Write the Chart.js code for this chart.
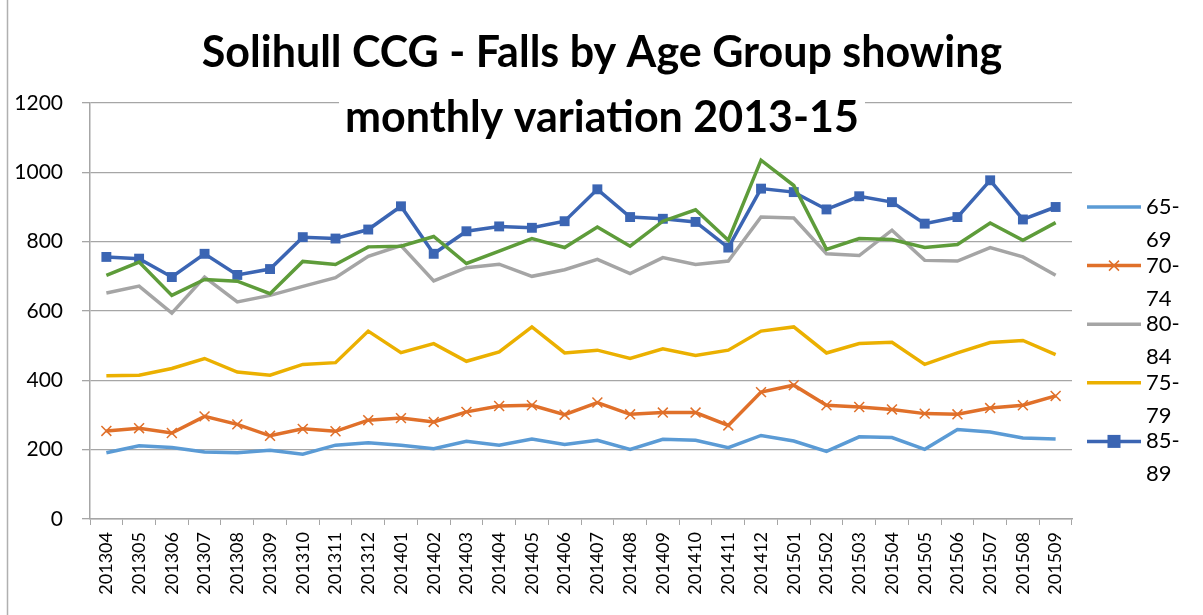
<!DOCTYPE html>
<html>
<head>
<meta charset="utf-8">
<script src="https://cdn.jsdelivr.net/npm/chart.js@4"></script>
<style>
html,body{margin:0;padding:0;background:#fff;}
#wrap{width:1203px;height:615px;position:relative;}
</style>
</head>
<body>
<div id="wrap"><canvas id="c" width="1203" height="615"></canvas></div>
<script>
// months on the x axis
const months = ["201304","201305","201306","201307","201308","201309","201310","201311","201312",
  "201401","201402","201403","201404","201405","201406","201407","201408","201409","201410","201411","201412",
  "201501","201502","201503","201504","201505","201506","201507","201508","201509"];

// falls per age group
const age6569 = [191,211,206,193,191,198,187,213,220,213,203,224,213,231,215,227,201,230,227,206,241,225,195,237,235,201,258,251,234,231];
const age7074 = [254,262,248,296,273,240,260,253,285,291,280,309,326,328,301,336,302,307,307,270,366,386,328,323,316,304,302,320,328,355];
const age8084 = [652,672,594,698,626,645,671,696,758,789,687,725,735,700,719,749,708,754,734,744,871,868,765,760,833,746,744,783,756,703];
const age7579 = [413,415,434,463,424,415,446,451,542,480,506,455,482,554,479,487,463,491,472,487,542,554,479,506,510,446,479,509,515,474];
const age8589 = [756,751,698,765,704,721,813,809,835,902,765,830,844,840,859,951,871,866,857,783,953,943,893,931,914,852,871,977,864,900];
const age90 = [703,741,645,691,686,650,743,734,785,787,815,737,773,809,783,842,787,859,892,804,1035,962,778,809,806,783,792,854,804,855];

const yTicks = [0,200,400,600,800,1000,1200];
const titleLines = ["Solihull CCG - Falls by Age Group showing","monthly variation 2013-15"];
const legendNames = [["65-","69"],["70-","74"],["80-","84"],["75-","79"],["85-","89"]];

function ds(label,data,color,extra){
    return Object.assign({
        label:label,
        data:data,
        borderColor:color,
        backgroundColor:color,
        borderWidth:3.5,
        tension:0,
        pointRadius:0,
        pointHoverRadius:0
    },extra||{});
}

const sets = [
    ds("65-69",age6569,"#5b9bd5"),
    ds("70-74",age7074,"#e0702a",{pointStyle:"crossRot",pointRadius:7,pointBorderWidth:1.5,pointBorderColor:"#e0702a"}),
    ds("80-84",age8084,"#a5a5a5"),
    ds("75-79",age7579,"#ebb000"),
    ds("85-89",age8589,"#3b65b3",{pointStyle:"rect",pointRadius:7,pointBorderWidth:0}),
    ds("90+",age90,"#5e9c3a")
];
// later series on top, like the original
sets.forEach((s,i)=>{ s.order = sets.length-i; });

const extras = {
    id:"extras",
    afterDraw(chart){
        const ctx = chart.ctx;
        ctx.save();
        // outer frame edge on the left
        ctx.strokeStyle="#b0b0b0";
        ctx.lineWidth=1.5;
        ctx.beginPath();ctx.moveTo(7.5,0);ctx.lineTo(7.5,615);ctx.stroke();

        // title, on a white box that hides the top gridline
        ctx.font="bold 43px Lato";
        ctx.textAlign="center";
        ctx.textBaseline="alphabetic";
        const w2 = ctx.measureText(titleLines[1]).width;
        ctx.fillStyle="#fff";
        ctx.fillRect(602-w2/2-6,92,w2+12,50);
        ctx.fillStyle="#000";
        ctx.fillText(titleLines[0],602,67);
        ctx.fillText(titleLines[1],602,132);

        // legend (only the first five series)
        ctx.font="22px Lato";
        ctx.textAlign="left";
        ctx.textBaseline="middle";
        legendNames.forEach((nm,i)=>{
            const d = chart.data.datasets[i];
            const y = 207 + i*58.6;
            ctx.strokeStyle=d.borderColor;
            ctx.lineWidth=3.5;
            ctx.beginPath();ctx.moveTo(1087,y);ctx.lineTo(1141,y);ctx.stroke();
            if(d.pointStyle==="rect"){
                ctx.fillStyle=d.borderColor;
                ctx.fillRect(1114-6.5,y-6.5,13,13);
            } else if(d.pointStyle==="crossRot"){
                ctx.lineWidth=1.5;
                ctx.beginPath();
                ctx.moveTo(1109,y-5);ctx.lineTo(1119,y+5);
                ctx.moveTo(1119,y-5);ctx.lineTo(1109,y+5);
                ctx.stroke();
            }
            ctx.fillStyle="#000";
            ctx.fillText(nm[0],1146,y);
            ctx.fillText(nm[1],1146,y+33);
        });
        ctx.restore();
    }
};

new Chart(document.getElementById("c"),{
    type:"line",
    data:{labels:months,datasets:sets},
    options:{
        responsive:false,
        animation:false,
        layout:{padding:{left:0,top:103,right:131,bottom:0}},
        plugins:{legend:{display:false},title:{display:false},tooltip:{enabled:false}},
        scales:{
            x:{
                offset:true,
                grid:{display:true,drawOnChartArea:false,drawTicks:true,tickLength:6,color:"#a6a6a6",offset:true},
                border:{color:"#a6a6a6",width:1.5},
                ticks:{autoSkip:false,maxRotation:90,minRotation:90,padding:7,color:"#000",font:{family:"Lato",size:18}},
                afterFit(s){ s.height = 96; }
            },
            y:{
                min:0,max:1200,
                afterBuildTicks(s){ s.ticks = yTicks.map(v=>({value:v})); },
                grid:{color:"#a6a6a6",lineWidth:1.3,tickLength:8},
                border:{color:"#a6a6a6",width:1.5},
                ticks:{padding:19,color:"#000",font:{family:"Lato",size:21},callback:v=>String(v)},
                afterFit(s){ s.width = 90; }
            }
        }
    },
    plugins:[extras]
});
</script>
</body>
</html>
